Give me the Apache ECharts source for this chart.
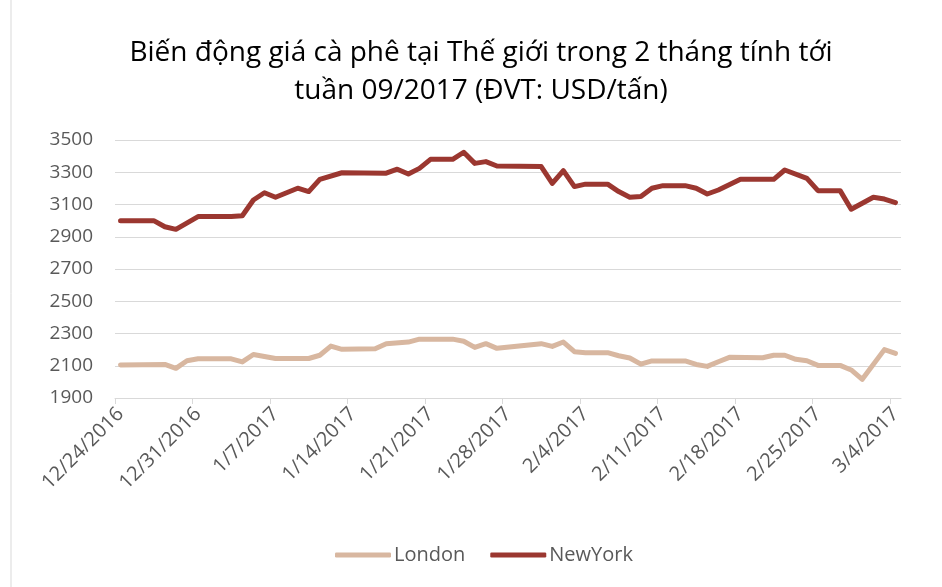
<!DOCTYPE html>
<html>
<head>
<meta charset="utf-8">
<script src="https://cdn.jsdelivr.net/npm/echarts@6/dist/echarts.min.js"></script>
<style>
  html, body { margin: 0; padding: 0; background: #fff; }
  #chart { width: 942px; height: 587px; }
</style>
</head>
<body>
<div id="chart"></div>
<script>
// dữ liệu (USD/tấn)
var startDate = '12/24/2016';
var tickDates = ['12/24/2016', '12/31/2016', '1/7/2017', '1/14/2017', '1/21/2017', '1/28/2017',
  '2/4/2017', '2/11/2017', '2/18/2017', '2/25/2017', '3/4/2017'];

var londonDates = ['12/24/2016', '12/28/2016', '12/29/2016', '12/30/2016', '12/31/2016', '1/3/2017',
  '1/4/2017', '1/5/2017', '1/7/2017', '1/10/2017', '1/11/2017', '1/12/2017', '1/13/2017', '1/16/2017',
  '1/17/2017', '1/19/2017', '1/20/2017', '1/23/2017', '1/24/2017', '1/25/2017', '1/26/2017', '1/27/2017',
  '1/31/2017', '2/1/2017', '2/2/2017', '2/3/2017', '2/4/2017', '2/6/2017', '2/7/2017', '2/8/2017',
  '2/9/2017', '2/10/2017', '2/13/2017', '2/14/2017', '2/15/2017', '2/16/2017', '2/17/2017', '2/20/2017',
  '2/21/2017', '2/22/2017', '2/23/2017', '2/24/2017', '2/25/2017', '2/27/2017', '2/28/2017', '3/1/2017',
  '3/3/2017', '3/4/2017'];
var londonValues = [2105, 2108, 2084, 2131, 2143, 2143,
  2124, 2170, 2145, 2145, 2165, 2222, 2202, 2205,
  2237, 2247, 2265, 2265, 2252, 2214, 2237, 2208,
  2237, 2220, 2247, 2187, 2181, 2181, 2162, 2148,
  2110, 2130, 2130, 2108, 2096, 2125, 2152, 2150,
  2165, 2165, 2140, 2131, 2102, 2102, 2074, 2016,
  2200, 2177];

var newYorkDates = ['12/24/2016', '12/27/2016', '12/28/2016', '12/29/2016', '12/31/2016', '1/3/2017',
  '1/4/2017', '1/5/2017', '1/6/2017', '1/7/2017', '1/9/2017', '1/10/2017', '1/11/2017', '1/13/2017',
  '1/17/2017', '1/18/2017', '1/19/2017', '1/20/2017', '1/21/2017', '1/23/2017', '1/24/2017', '1/25/2017',
  '1/26/2017', '1/27/2017', '1/31/2017', '2/1/2017', '2/2/2017', '2/3/2017', '2/4/2017', '2/6/2017',
  '2/7/2017', '2/8/2017', '2/9/2017', '2/10/2017', '2/11/2017', '2/13/2017', '2/14/2017', '2/15/2017',
  '2/16/2017', '2/18/2017', '2/21/2017', '2/22/2017', '2/24/2017', '2/25/2017', '2/27/2017', '2/28/2017',
  '3/2/2017', '3/3/2017', '3/4/2017'];
var newYorkValues = [3000, 3000, 2962, 2946, 3025, 3025,
  3030, 3128, 3173, 3145, 3201, 3180, 3256, 3297,
  3294, 3319, 3289, 3324, 3380, 3380, 3424, 3355,
  3366, 3339, 3335, 3231, 3310, 3211, 3226, 3226,
  3180, 3145, 3149, 3201, 3217, 3217, 3201, 3165,
  3190, 3256, 3256, 3314, 3262, 3186, 3186, 3071,
  3145, 3134, 3112];

function toTime(s) {
  var p = s.split('/');
  return Date.UTC(+p[2], +p[0] - 1, +p[1]);
}
var DAY = 86400000;
var base = toTime(startDate);
// số ngày kể từ ngày đầu; điểm nằm giữa ô ngày như trục ngày của Excel
function dayIndex(s) {
  return Math.round((toTime(s) - base) / DAY);
}
function label(v) {
  var d = new Date(base + Math.floor(v) * DAY);
  return (d.getUTCMonth() + 1) + '/' + d.getUTCDate() + '/' + d.getUTCFullYear();
}
function pairs(dates, values) {
  var out = [];
  for (var i = 0; i < dates.length; i++) {
    out.push([dayIndex(dates[i]) + 0.5, values[i]]);
  }
  return out;
}
var tickValues = tickDates.map(dayIndex);
var labelValues = tickValues.map(function (v) { return v + 0.5; });

var font = '"Open Sans", "Noto Sans", sans-serif';
var chart = echarts.init(document.getElementById('chart'));
chart.setOption({
  animation: false,
  backgroundColor: '#fff',
  title: {
    text: 'Biến động giá cà phê tại Thế giới trong 2 tháng tính tới\ntuần 09/2017 (ĐVT: USD/tấn)',
    left: 476,
    top: 29,
    textAlign: 'center',
    textStyle: {
      fontFamily: font,
      fontSize: 28,
      fontWeight: 'normal',
      color: '#000',
      lineHeight: 38
    }
  },
  legend: {
    bottom: 17,
    left: 330,
    icon: 'roundRect',
    itemWidth: 56,
    itemHeight: 5,
    itemGap: 25,
    textStyle: { fontFamily: font, fontSize: 20, color: '#595959', padding: [0, 0, 0, -2] },
    data: ['London', 'NewYork']
  },
  grid: { left: 115, right: 41, top: 140, bottom: 189, containLabel: false },
  xAxis: {
    type: 'value',
    min: 0,
    max: 71,
    splitLine: { show: false },
    axisLine: { show: true, lineStyle: { color: '#D9D9D9', width: 1 } },
    axisTick: { show: true, length: 6, customValues: tickValues, lineStyle: { color: '#D9D9D9' } },
    axisLabel: {
      customValues: labelValues,
      rotate: 45,
      margin: 13,
      fontFamily: font,
      fontSize: 20,
      color: '#595959',
      formatter: label
    }
  },
  yAxis: {
    type: 'value',
    min: 1900,
    max: 3500,
    interval: 200,
    axisLine: { show: false },
    axisTick: { show: false },
    splitLine: { lineStyle: { color: '#D9D9D9', width: 1 } },
    axisLabel: {
      margin: 22,
      fontFamily: font,
      fontSize: 19,
      color: '#595959',
      formatter: function (v) { return String(v); }
    }
  },
  graphic: [{
    type: 'line',
    shape: { x1: 11, y1: 0, x2: 11, y2: 587 },
    style: { stroke: '#D9D9D9', lineWidth: 1 }
  }],
  series: [
    {
      name: 'London',
      type: 'line',
      data: pairs(londonDates, londonValues),
      showSymbol: false,
      color: '#D8B7A0',
      lineStyle: { width: 5, color: '#D8B7A0', cap: 'round', join: 'round' }
    },
    {
      name: 'NewYork',
      type: 'line',
      data: pairs(newYorkDates, newYorkValues),
      showSymbol: false,
      color: '#9B3730',
      lineStyle: { width: 5, color: '#9B3730', cap: 'round', join: 'round' }
    }
  ]
});
</script>
</body>
</html>
